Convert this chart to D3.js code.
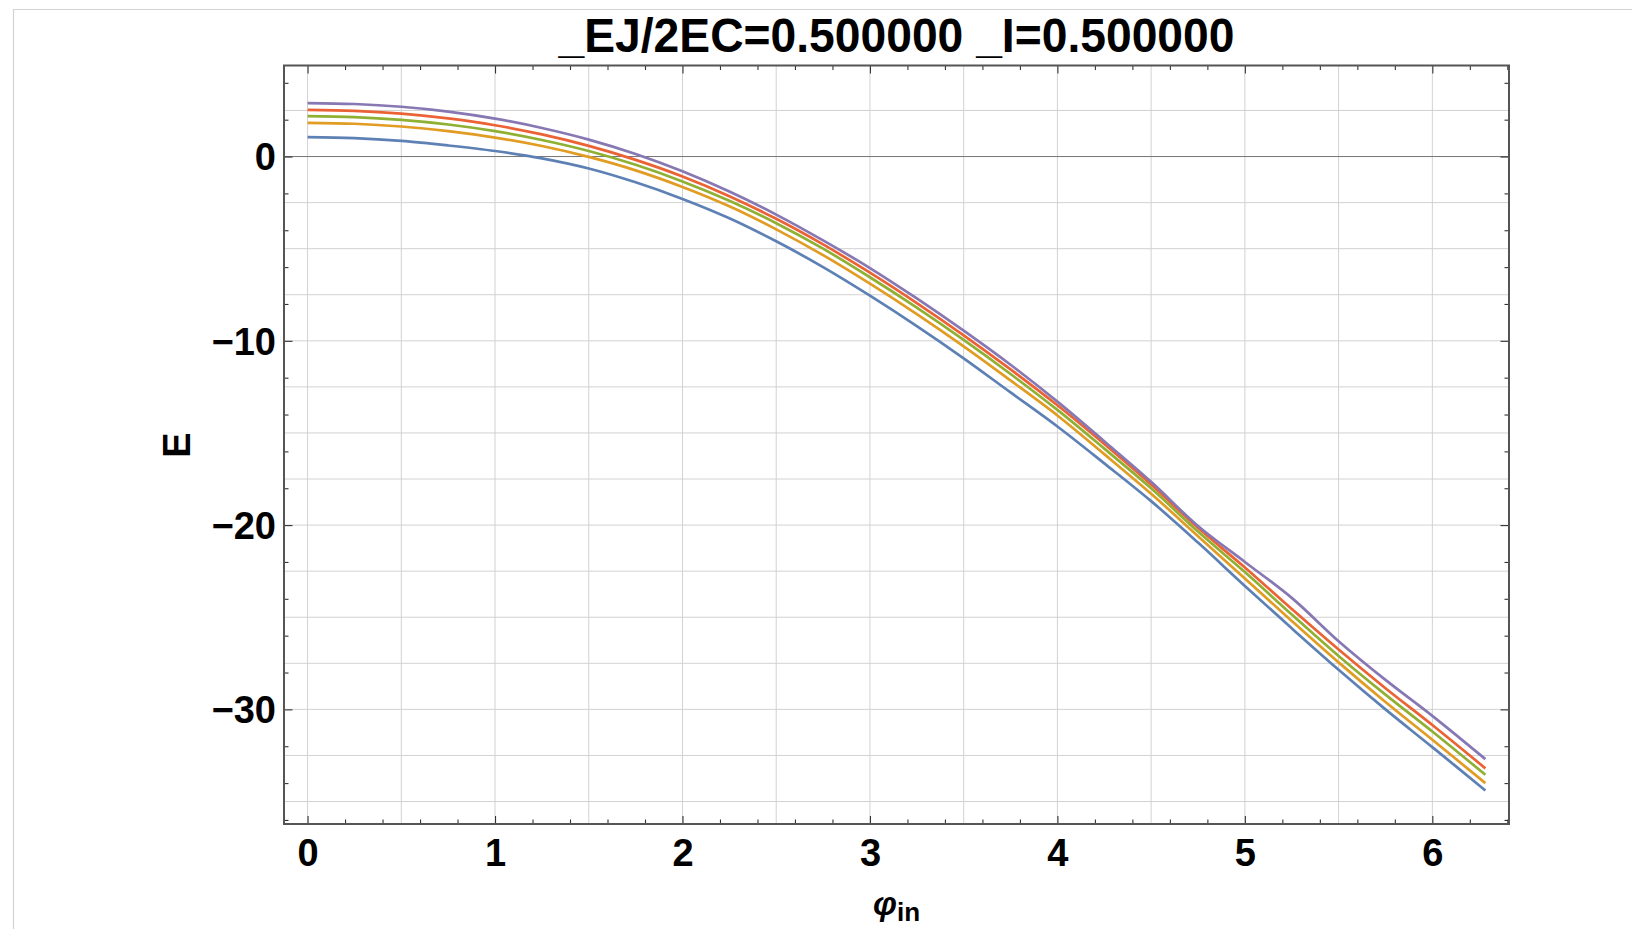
<!DOCTYPE html>
<html>
<head>
<meta charset="utf-8">
<script src="https://cdn.jsdelivr.net/npm/d3@7"></script>
<style>
  html, body { margin: 0; padding: 0; background: #fff; }
  svg { display: block; }
  text { font-family: "Liberation Sans", Arial, sans-serif; font-weight: bold; fill: #000; }
</style>
</head>
<body>
<svg id="chart" width="1632" height="929"></svg>
<script>
// ---- data ----
const title = "_EJ/2EC=0.500000 _I=0.500000";
const xLabel = "φ";
const xLabelSub = "in";
const yLabel = "E";
const phi = [0, 0.25, 0.5, 0.75, 1.0, 1.25, 1.5, 1.75, 2.0, 2.25, 2.5, 2.75, 3.0, 3.25, 3.5, 3.75, 4.0, 4.25, 4.5, 4.75, 5.0, 5.25, 5.5, 5.75, 6.0, 6.283];
const level0 = [1.05, 1.0, 0.85, 0.6, 0.3, -0.1, -0.65, -1.4, -2.3, -3.35, -4.6, -6.0, -7.55, -9.2, -10.95, -12.8, -14.65, -16.65, -18.7, -20.95, -23.3, -25.6, -27.85, -30.0, -32.05, -34.4];
const level1 = [1.83, 1.78, 1.63, 1.38, 1.03, 0.57, -0.02, -0.75, -1.65, -2.7, -3.95, -5.35, -6.9, -8.55, -10.3, -12.15, -14.05, -16.15, -18.3, -20.6, -22.9, -25.2, -27.45, -29.6, -31.65, -34.0];
const level2 = [2.19, 2.14, 1.99, 1.74, 1.38, 0.9, 0.3, -0.45, -1.35, -2.4, -3.62, -5.0, -6.55, -8.2, -9.95, -11.8, -13.75, -15.85, -18.0, -20.35, -22.55, -24.85, -27.1, -29.2, -31.2, -33.55];
const level3 = [2.53, 2.48, 2.33, 2.07, 1.7, 1.2, 0.58, -0.18, -1.08, -2.15, -3.38, -4.77, -6.3, -7.95, -9.7, -11.55, -13.5, -15.6, -17.8, -20.15, -22.3, -24.55, -26.75, -28.85, -30.85, -33.2];
const level4 = [2.9, 2.85, 2.7, 2.44, 2.06, 1.55, 0.92, 0.14, -0.8, -1.9, -3.15, -4.55, -6.05, -7.7, -9.45, -11.3, -13.3, -15.45, -17.65, -20.05, -22.0, -23.95, -26.3, -28.4, -30.35, -32.7];
const seriesColors = ["#5E81B5", "#E19C24", "#8FB032", "#EB6235", "#8778B3"];
const xTickLabels = ["0", "1", "2", "3", "4", "5", "6"];
const yTickLabels = ["0", "−10", "−20", "−30"];

// ---- layout ----
const svg = d3.select("#chart");
const L = 284, R = 1509, T = 65.5, B = 824;
const x = d3.scaleLinear().domain([-0.1257, 6.409]).range([L, R]);
const y = d3.scaleLinear().domain([-36.22, 4.94]).range([B, T]);

// outer panel border
svg.append("path").attr("d", `M13.5,${929} L13.5,9.5 L1632,9.5`)
  .attr("fill", "none").attr("stroke", "#d4d4d4").attr("stroke-width", 1.2);

// grid
const gx = d3.range(0, 6.5, 0.5);
const gy = d3.range(-35, 5, 2.5);
const grid = svg.append("g");
grid.selectAll("line.gx").data(gx).join("line")
  .attr("x1", d => x(d)).attr("x2", d => x(d)).attr("y1", T).attr("y2", B)
  .attr("stroke", "#d2d2d2").attr("stroke-width", 1);
grid.selectAll("line.gy").data(gy).join("line")
  .attr("y1", d => y(d)).attr("y2", d => y(d)).attr("x1", L).attr("x2", R)
  .attr("stroke", "#d2d2d2").attr("stroke-width", 1);

// zero axis
svg.append("line").attr("x1", L).attr("x2", R).attr("y1", y(0)).attr("y2", y(0))
  .attr("stroke", "#777").attr("stroke-width", 1);

// curves
const levels = [level0, level1, level2, level3, level4];
const line = d3.line().x((d, i) => x(phi[i])).y(d => y(d)).curve(d3.curveCatmullRom.alpha(0.5));
svg.append("g").selectAll("path").data(levels).join("path")
  .attr("d", d => line(d))
  .attr("fill", "none")
  .attr("stroke", (d, i) => seriesColors[i])
  .attr("stroke-width", 2.7)
  .attr("stroke-linejoin", "round");

// frame axes with ticks (ticks inward)
const xMajor = d3.range(0, 7, 1);
const xMinor = d3.range(0, 6.41, 0.2).filter(v => Math.abs(v - Math.round(v)) > 1e-6);
const yMajor = [0, -10, -20, -30];
const yMinor = d3.range(-36, 5, 2).filter(v => v % 10 !== 0);

function addAxis(axisGen, tx, ty) {
  const g = svg.append("g").attr("transform", `translate(${tx},${ty})`).call(axisGen);
  g.select(".domain").remove();
  g.selectAll(".tick line").attr("stroke", "#333").attr("stroke-width", 1.1);
  return g;
}
// bottom: major (with labels) + minor
addAxis(d3.axisBottom(x).tickValues(xMajor).tickSize(-8).tickFormat((d, i) => xTickLabels[i]), 0, B)
  .selectAll("text").attr("font-size", 38).attr("dy", null).attr("y", 42)
  .attr("font-family", "Liberation Sans, Arial, sans-serif").attr("font-weight", "bold").attr("fill", "#000");
addAxis(d3.axisBottom(x).tickValues(xMinor).tickSize(-4.5).tickFormat(""), 0, B);
// top
addAxis(d3.axisTop(x).tickValues(xMajor).tickSize(-8).tickFormat(""), 0, T);
addAxis(d3.axisTop(x).tickValues(xMinor).tickSize(-4.5).tickFormat(""), 0, T);
// left
addAxis(d3.axisLeft(y).tickValues(yMajor).tickSize(-8.5).tickFormat((d, i) => yTickLabels[i]), L, 0)
  .selectAll("text").attr("font-size", 38).attr("x", -8).attr("dy", "0.35em")
  .attr("font-family", "Liberation Sans, Arial, sans-serif").attr("font-weight", "bold").attr("fill", "#000");
addAxis(d3.axisLeft(y).tickValues(yMinor).tickSize(-4.5).tickFormat(""), L, 0);
// right
addAxis(d3.axisRight(y).tickValues(yMajor).tickSize(-8.5).tickFormat(""), R, 0);
addAxis(d3.axisRight(y).tickValues(yMinor).tickSize(-4.5).tickFormat(""), R, 0);

// frame
svg.append("rect").attr("x", L).attr("y", T).attr("width", R - L).attr("height", B - T)
  .attr("fill", "none").attr("stroke", "#555").attr("stroke-width", 2);

// title
svg.append("text").attr("x", 896.5).attr("y", 51.5).attr("text-anchor", "middle")
  .attr("font-size", 49).attr("textLength", 676).attr("lengthAdjust", "spacingAndGlyphs")
  .text(title);

// y label
svg.append("text").attr("transform", "translate(190,445) rotate(-90)")
  .attr("text-anchor", "middle").attr("font-size", 38).text(yLabel);

// x label
const xl = svg.append("text").attr("x", 873).attr("y", 915).attr("font-size", 34);
xl.append("tspan").attr("font-style", "italic").text(xLabel);
xl.append("tspan").attr("font-size", 26).attr("dy", 6).text(xLabelSub);
</script>
</body>
</html>
